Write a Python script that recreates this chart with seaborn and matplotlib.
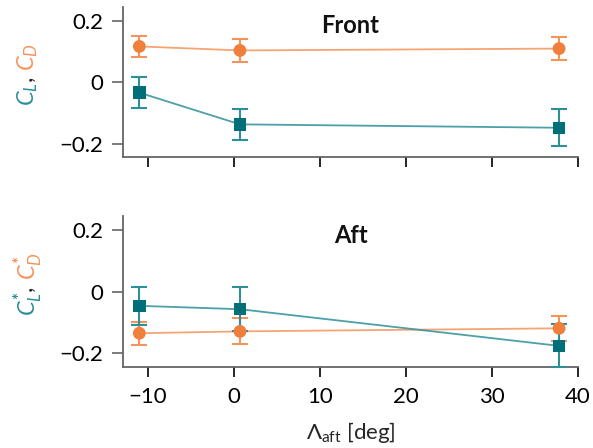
import matplotlib
matplotlib.use("Agg")
import matplotlib.pyplot as plt
import seaborn as sns
import pandas as pd
import numpy as np

# ---- data ----
sweep = [-11.0, 0.7, 37.8]
front_cl = [-0.034, -0.137, -0.148]
front_cl_err = [0.050, 0.051, 0.060]
front_cd = [0.116, 0.103, 0.109]
front_cd_err = [0.034, 0.036, 0.036]
aft_cl = [-0.046, -0.057, -0.176]
aft_cl_err = [0.062, 0.072, 0.070]
aft_cd = [-0.135, -0.129, -0.119]
aft_cd_err = [0.038, 0.042, 0.040]
titles = ["Front", "Aft"]
xticks = [-10, 0, 10, 20, 30, 40]
yticks = [-0.2, 0, 0.2]

TEAL = "#006f7a"
TEAL_L = "#2d8f98"
ORANGE = "#f07f3c"
ORANGE_L = "#f4945c"

sns.set_theme(style="ticks")
plt.rcParams["font.family"] = ["Lato", "DejaVu Sans"]
plt.rcParams["mathtext.fontset"] = "custom"
plt.rcParams["mathtext.rm"] = "Lato"
plt.rcParams["mathtext.it"] = "Lato:italic"
plt.rcParams["mathtext.bf"] = "Lato:bold"

fig = plt.figure(figsize=(5.93, 4.48), dpi=100)
ax1 = fig.add_axes([123/593, 1-157/448, 455/593, 150/448])
ax2 = fig.add_axes([123/593, 1-366.5/448, 455/593, 150/448])

panels = [
    (ax1, front_cl, front_cl_err, front_cd, front_cd_err,
     ["$C_L$", ", ", "$C_D$"]),
    (ax2, aft_cl, aft_cl_err, aft_cd, aft_cd_err,
     [r"$C^{\mathbf{*}}_L$", ", ", r"$C^{\mathbf{*}}_D$"]),
]

for i, (ax, cl, cle, cd, cde, lab) in enumerate(panels):
    df = pd.DataFrame({"x": sweep, "cl": cl, "cd": cd})
    sns.lineplot(data=df, x="x", y="cd", ax=ax, color=ORANGE_L, lw=1.3,
                 alpha=0.85, zorder=2)
    sns.lineplot(data=df, x="x", y="cl", ax=ax, color=TEAL_L, lw=1.3,
                 alpha=0.85, zorder=2)
    ax.errorbar(sweep, cd, yerr=cde, fmt="none", ecolor=ORANGE_L, elinewidth=1.5,
                capsize=6, capthick=1.5, zorder=3)
    ax.errorbar(sweep, cl, yerr=cle, fmt="none", ecolor=TEAL_L, elinewidth=1.5,
                capsize=6, capthick=1.5, zorder=3, clip_on=False)
    sns.scatterplot(data=df, x="x", y="cd", ax=ax, color=ORANGE, marker="o",
                    s=85, edgecolor="none", zorder=4)
    sns.scatterplot(data=df, x="x", y="cl", ax=ax, color=TEAL, marker="s",
                    s=80, edgecolor="none", zorder=4)

    ax.set_xlim(-12.9, 40)
    ax.set_ylim(-0.243, 0.244)
    ax.set_xticks(xticks)
    ax.set_yticks(yticks)
    ax.set_yticklabels(["\u22120.2", "0", "0.2"])
    ax.set_xlabel("")
    ax.set_ylabel("")
    for s in ["top", "right"]:
        ax.spines[s].set_visible(False)
    for s in ["left", "bottom"]:
        ax.spines[s].set_color("#666666")
        ax.spines[s].set_linewidth(1.3)
    ax.tick_params(axis="y", direction="out", length=8, width=1.2,
                   color="#666666", labelsize=16, pad=6, labelcolor="black")
    ax.tick_params(axis="x", direction="out", length=7, width=1.2,
                   color="black", labelsize=16, pad=8, labelcolor="black")
    ax.text(0.5, 0.875, titles[i], transform=ax.transAxes, ha="center",
            va="center", fontsize=17, fontweight="bold", color="#111111")

    # coloured y label
    t1 = ax.text(-0.21, 0.5, lab[0], transform=ax.transAxes, rotation=90,
                 ha="center", va="top", fontsize=17, color=TEAL_L)
    t2 = ax.annotate(lab[1], xy=(0.5, 1.0), xycoords=t1, rotation=90,
                     ha="center", va="bottom", fontsize=17, color="#222222")
    t3 = ax.annotate(lab[2], xy=(0.5, 1.0), xycoords=t2, rotation=90,
                     ha="center", va="bottom", fontsize=17, color=ORANGE_L)

ax1.set_xticklabels([])
ax2.set_xticklabels(["\u221210", "0", "10", "20", "30", "40"])
ax2.set_xlabel(r"$\Lambda_{\mathrm{aft}}$ [deg]", fontsize=16, labelpad=9)

fig.savefig("out.png", dpi=100)
